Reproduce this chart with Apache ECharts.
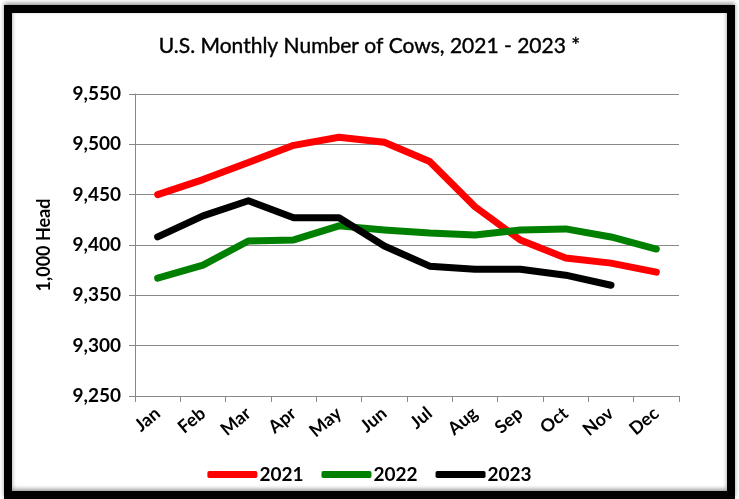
<!DOCTYPE html>
<html><head><meta charset="utf-8">
<script src="https://cdn.jsdelivr.net/npm/echarts@6/dist/echarts.min.js"></script>
<style>html,body{margin:0;padding:0;background:#fff}#c{width:739px;height:499px}</style>
</head><body><div id="c"></div>
<script>
const months = ['Jan','Feb','Mar','Apr','May','Jun','Jul','Aug','Sep','Oct','Nov','Dec'];
const y2021 = [9450,9465,9482,9499,9507,9502,9483,9438,9405,9387,9382,9373];
const y2022 = [9367,9380,9404,9405,9419,9415,9412,9410,9415,9416,9408,9396];
const y2023 = [9408,9429,9444,9427,9427,9399,9379,9376,9376,9370,9360];
const yTicks = {min:9250, max:9550, interval:50};

const font = 'Lato, "Open Sans", sans-serif';
const chart = echarts.init(document.getElementById('c'));
function line(name, data, color){
  return {name, type:'line', data, symbol:'none', smooth:false,
    lineStyle:{color, width:7, cap:'round', join:'round'}, itemStyle:{color}};
}
chart.setOption({
  animation:false,
  title:{text:'U.S. Monthly Number of Cows, 2021 - 2023 *', left:'center', top:31,
    textStyle:{fontFamily:font, fontSize:21, fontWeight:'normal', color:'#000', textBorderColor:'#000', textBorderWidth:0.4}},
  grid:{left:135, right:60, top:94, bottom:103, containLabel:false},
  xAxis:{type:'category', data:months, boundaryGap:true,
    axisLine:{lineStyle:{color:'#888', width:1}},
    axisTick:{show:true, length:6, lineStyle:{color:'#888'}},
    axisLabel:{rotate:40, fontFamily:font, fontSize:18, fontWeight:'bold', color:'#000', margin:15}},
  yAxis:{type:'value', min:yTicks.min, max:yTicks.max, interval:yTicks.interval,
    name:'1,000 Head', nameLocation:'middle', nameGap:82, nameRotate:90,
    nameTextStyle:{fontFamily:font, fontSize:18, fontWeight:'bold', color:'#000'},
    axisLine:{show:true, lineStyle:{color:'#888'}},
    axisTick:{show:true, length:6, lineStyle:{color:'#888'}},
    splitLine:{lineStyle:{color:'#888', width:1}},
    axisLabel:{fontFamily:font, fontSize:19, fontWeight:'bold', color:'#000', margin:14,
      formatter:v=>v.toLocaleString('en-US')}},
  legend:{bottom:10, left:'center', itemWidth:50, itemHeight:7, itemGap:18,
    icon:'roundRect',
    textStyle:{fontFamily:font, fontSize:19, fontWeight:'bold', color:'#000', padding:[0,0,0,-3]},
    data:['2021','2022','2023']},
  graphic:[{type:'rect', shape:{x:8, y:9, width:723, height:486},
    style:{fill:'none', stroke:'#000', lineWidth:8,
      shadowBlur:4, shadowColor:'rgba(0,0,0,0.4)', shadowOffsetX:0, shadowOffsetY:-2}, z:100}],
  series:[line('2021', y2021, '#ff0000'), line('2022', y2022, '#008000'), line('2023', y2023, '#000000')]
});
</script></body></html>
